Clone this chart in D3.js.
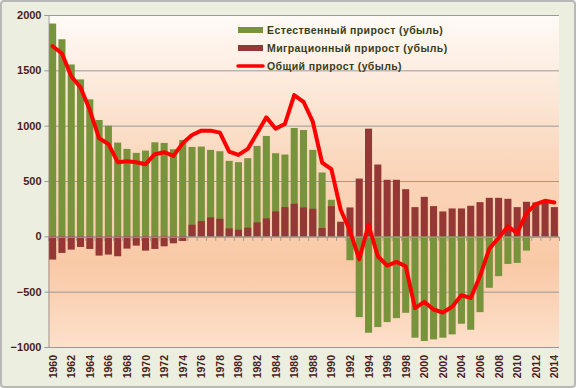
<!DOCTYPE html>
<html>
<head>
<meta charset="utf-8">
<script src="https://cdn.jsdelivr.net/npm/d3@7"></script>
<style>
  body { margin: 0; background: #fff; }
  svg { display: block; }
</style>
</head>
<body>
<div id="chart-container"></div>
<script>
// Years 1960..2014
const years = d3.range(1960, 2015);

// Natural increase (thousands)
const natural = [
  1923, 1781, 1553, 1418, 1238, 1051, 1000, 847, 790, 754,
  775, 850, 844, 787, 871, 808, 811, 781, 769, 682,
  670, 706, 817, 907, 751, 739, 979, 961, 781, 577,
  330, 105, -216, -730, -871, -820, -775, -739, -691, -916,
  -946, -931, -916, -886, -790, -844, -685, -465, -360, -249,
  -240, -129, -2, 24, 33
];

// Migration increase (thousands)
const migration = [
  -210, -150, -120, -96, -114, -174, -165, -180, -111, -84,
  -129, -114, -90, -63, -42, 105, 138, 171, 159, 72,
  60, 78, 126, 162, 225, 264, 294, 261, 249, 75,
  273, 132, 261, 522, 973, 649, 511, 511, 426, 264,
  357, 273, 225, 252, 252, 276, 309, 348, 348, 339,
  264, 312, 306, 315, 264
];

// Total increase (thousands)
const total = [
  1718, 1652, 1447, 1345, 1141, 886, 835, 670, 679, 670,
  652, 742, 760, 727, 841, 916, 955, 955, 937, 766,
  736, 790, 931, 1075, 973, 1015, 1276, 1216, 1036, 667,
  607, 240, 50, -208, 105, -180, -264, -231, -270, -649,
  -592, -661, -688, -637, -532, -556, -360, -111, -15, 90,
  30, 210, 291, 321, 306
];

const yTicks = [-1000, -500, 0, 500, 1000, 1500, 2000];
const seriesNames = [
  'Естественный прирост (убыль)',
  'Миграционный прирост (убыль)',
  'Общий прирост (убыль)'
];

const W = 576, H = 388;
const plot = { left: 48, right: 559, top: 15, bottom: 347 };

const svg = d3.select('#chart-container')
  .append('svg')
  .attr('width', W)
  .attr('height', H);

const defs = svg.append('defs');
const grad = defs.append('linearGradient')
  .attr('id', 'plotbg')
  .attr('x1', 0).attr('y1', 0).attr('x2', 0).attr('y2', 1);
grad.append('stop').attr('offset', '0%').attr('stop-color', '#fffbf7');
grad.append('stop').attr('offset', '45%').attr('stop-color', '#fad6bb');
grad.append('stop').attr('offset', '75%').attr('stop-color', '#f9c9a6');
grad.append('stop').attr('offset', '100%').attr('stop-color', '#fde0cb');

// chart area frame
svg.append('rect')
  .attr('x', 1).attr('y', 1)
  .attr('width', W - 2).attr('height', H - 2)
  .attr('rx', 3)
  .attr('fill', '#ecefe0')
  .attr('stroke', '#b8b8b8')
  .attr('stroke-width', 2);

// plot area
svg.append('rect')
  .attr('x', plot.left).attr('y', plot.top)
  .attr('width', plot.right - plot.left)
  .attr('height', plot.bottom - plot.top)
  .attr('fill', 'url(#plotbg)');

const x = d3.scaleBand()
  .domain(years)
  .range([plot.left, plot.right])
  .paddingInner(0.24)
  .paddingOuter(0.12);

const y = d3.scaleLinear()
  .domain([-1000, 2000])
  .range([plot.bottom, plot.top]);

// gridlines
svg.append('g')
  .selectAll('line')
  .data(yTicks)
  .enter()
  .append('line')
  .attr('x1', plot.left)
  .attr('x2', plot.right)
  .attr('y1', d => y(d) + 0.5)
  .attr('y2', d => y(d) + 0.5)
  .attr('stroke', '#9a9a9a')
  .attr('stroke-width', 1);

// y axis
const yAxis = d3.axisLeft(y).tickValues(yTicks).tickSize(4).tickPadding(3).tickFormat(d3.format('d'));
const gy = svg.append('g')
  .attr('class', 'yaxis')
  .attr('transform', `translate(${plot.left + 0.5},0)`)
  .call(yAxis);
gy.select('.domain').attr('stroke', '#9a9a9a');
gy.selectAll('.tick line').attr('stroke', '#9a9a9a');
gy.selectAll('text')
  .attr('fill', '#4b1d1d')
  .style('font-family', 'Liberation Sans, Arial, sans-serif')
  .style('font-size', '11px')
  .style('font-weight', 'bold');

// bars: natural increase
svg.append('g')
  .selectAll('rect')
  .data(natural)
  .enter()
  .append('rect')
  .attr('x', (d, i) => x(years[i]))
  .attr('width', x.bandwidth())
  .attr('y', d => y(Math.max(0, d)))
  .attr('height', d => Math.abs(y(d) - y(0)))
  .attr('fill', '#77933c');

// bars: migration increase (drawn over)
svg.append('g')
  .selectAll('rect')
  .data(migration)
  .enter()
  .append('rect')
  .attr('x', (d, i) => x(years[i]))
  .attr('width', x.bandwidth())
  .attr('y', d => y(Math.max(0, d)))
  .attr('height', d => Math.abs(y(d) - y(0)))
  .attr('fill', '#953735');

// zero axis with ticks between categories
const zeroAxis = d3.axisBottom(d3.scaleLinear().domain([0, years.length]).range([plot.left, plot.right]))
  .tickValues(d3.range(0, years.length + 1))
  .tickSize(4)
  .tickFormat('');
const gz = svg.append('g')
  .attr('transform', `translate(0,${y(0) + 0.5})`)
  .call(zeroAxis);
gz.select('.domain').attr('stroke', '#9a9a9a');
gz.selectAll('.tick line').attr('stroke', '#9a9a9a');

// bottom line
svg.append('line')
  .attr('x1', plot.left).attr('x2', plot.right)
  .attr('y1', plot.bottom + 0.5).attr('y2', plot.bottom + 0.5)
  .attr('stroke', '#9a9a9a');

// total line
const line = d3.line()
  .x((d, i) => x(years[i]) + x.bandwidth() / 2)
  .y(d => y(d));
svg.append('path')
  .datum(total)
  .attr('d', line)
  .attr('fill', 'none')
  .attr('stroke', '#ff0000')
  .attr('stroke-width', 4)
  .attr('stroke-linejoin', 'round')
  .attr('stroke-linecap', 'round');

// x labels every 2 years
svg.append('g')
  .selectAll('text')
  .data(years.filter(d => d % 2 === 0))
  .enter()
  .append('text')
  .attr('transform', d => `translate(${x(d) + x.bandwidth() / 2 + 4},${plot.bottom + 8}) rotate(-90)`)
  .attr('text-anchor', 'end')
  .attr('fill', '#4b1d1d')
  .style('font-family', 'Liberation Sans, Arial, sans-serif')
  .style('font-size', '10.5px')
  .style('font-weight', 'bold')
  .text(d => d);

// legend
const legend = svg.append('g').attr('transform', 'translate(238,30)');
const legendColors = ['#77933c', '#953735', '#ff0000'];
seriesNames.forEach((name, i) => {
  const g = legend.append('g').attr('transform', `translate(0,${i * 18})`);
  if (i < 2) {
    g.append('rect')
      .attr('x', 0).attr('y', -3)
      .attr('width', 25).attr('height', 6)
      .attr('fill', legendColors[i]);
  } else {
    g.append('line')
      .attr('x1', 0).attr('x2', 25)
      .attr('y1', 0).attr('y2', 0)
      .attr('stroke', legendColors[i])
      .attr('stroke-width', 3.5)
      .attr('stroke-linecap', 'round');
  }
  g.append('text')
    .attr('x', 29)
    .attr('y', 4)
    .attr('fill', '#34401c')
    .style('font-family', 'Liberation Sans, Arial, sans-serif')
    .style('font-size', '10.5px')
    .style('font-weight', 'bold')
    .style('letter-spacing', '0.4px')
    .text(name);
});
</script>
</body>
</html>
